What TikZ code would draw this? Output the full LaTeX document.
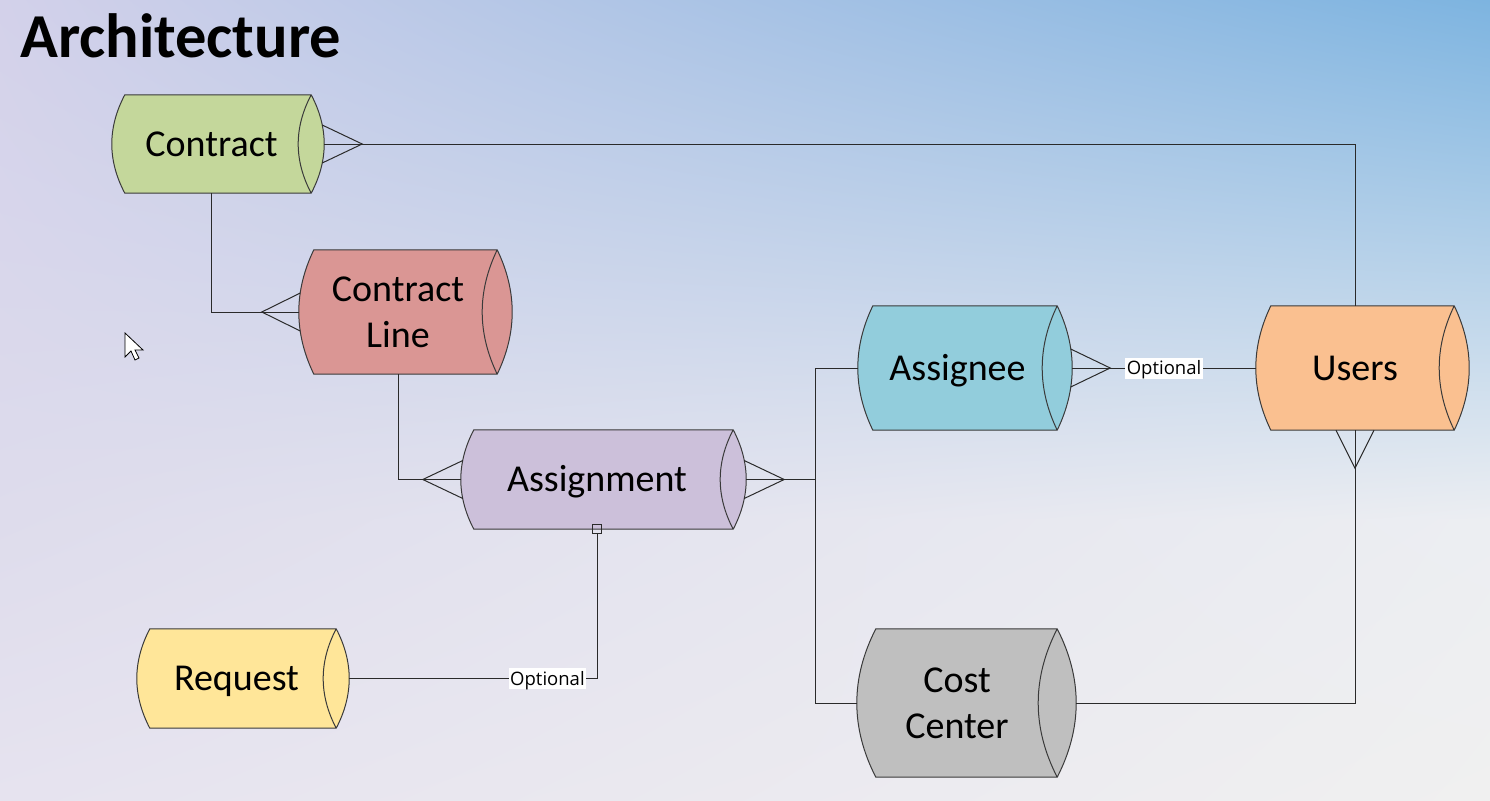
\documentclass[tikz,border=0pt]{standalone}
\usepackage{fontspec}
\setmainfont{Carlito}
\newfontfamily\optfont{Open Sans}
\usetikzlibrary{calc,shadings}
\pgfdeclarelayer{bgl}
\pgfdeclarelayer{shp}
\pgfsetlayers{bgl,shp,main}
\definecolor{cContract}{HTML}{C4D79B}
\definecolor{cLine}{HTML}{DA9694}
\definecolor{cAssign}{HTML}{CCC0DA}
\definecolor{cRequest}{HTML}{FFE699}
\definecolor{cAssignee}{HTML}{92CDDC}
\definecolor{cUsers}{HTML}{FAC090}
\definecolor{cCost}{HTML}{BFBFBF}
\definecolor{edgec}{HTML}{3A3A3A}
\definecolor{linec}{HTML}{2A2A2A}
\definecolor{bgUL}{HTML}{D3D1EA}
\definecolor{bgUR}{HTML}{7DB4E0}
\definecolor{bgML}{HTML}{DEDCEC}
\definecolor{bgMR}{HTML}{ECEEF2}
\definecolor{bgLL}{HTML}{E6E3EF}
\definecolor{bgLR}{HTML}{F0F0F0}
\newcommand{\cylshape}[3]{%
 \begin{pgfonlayer}{shp}
 \path let \p1=(#1.north west), \p2=(#1.south east), \n1={(\y1-\y2)/3} in
   [fill=#3, draw=edgec, line width=1pt, line join=miter]
   (\x1+#2pt,\y1) .. controls (\x1-#2pt/3,\y1-\n1) and (\x1-#2pt/3,\y2+\n1) .. (\x1+#2pt,\y2)
   -- (\x2,\y2) .. controls (\x2+4*#2pt/3,\y2+\n1) and (\x2+4*#2pt/3,\y1-\n1) .. (\x2,\y1) -- cycle
   (\x2,\y1) .. controls (\x2-4*#2pt/3,\y1-\n1) and (\x2-4*#2pt/3,\y2+\n1) .. (\x2,\y2);
 \end{pgfonlayer}}
\tikzset{
  entbase/.style={inner sep=0pt, align=center, text=black,
    font=\fontsize{38}{46}\selectfont},
  ent/.style={entbase, text height=30pt, text depth=5.5pt},
  enttwo/.style={entbase},
  conn/.style={draw=linec, line width=1pt},
  opt/.style={fill=white, inner xsep=1.5pt, inner ysep=1pt, text=black,
    text height=16pt, text depth=3pt,
    font=\optfont\fontsize{18.5}{20}\selectfont},
  sqbox/.style={draw=linec, line width=0.9pt, minimum size=9pt, inner sep=0pt}
}
\begin{document}
\begin{tikzpicture}[x=1pt,y=-1pt]
\useasboundingbox (0,0) rectangle (1490,800);
\begin{pgfonlayer}{bgl}
\shade[upper left=bgUL, upper right=bgUR, lower left=bgML, lower right=bgMR]
  (0,0) rectangle (1490,520);
\shade[upper left=bgML, upper right=bgMR, lower left=bgLL, lower right=bgLR]
  (0,519.5) rectangle (1490,800);
\end{pgfonlayer}

\node[anchor=base west, inner sep=0pt, font=\bfseries\fontsize{62.5}{70}\selectfont] (title) at (20,57) {Architecture};

\node[ent, minimum width=199pt, minimum height=98pt] (contract) at (211.5,144) {Contract};
\node[enttwo, minimum width=198pt, minimum height=124pt] (cline) at (398,312) {Contract\\Line};
\node[ent, minimum width=272pt, minimum height=99pt] (assign) at (597,479.5) {Assignment};
\node[ent, minimum width=199pt, minimum height=99pt] (request) at (236.5,678.5) {Request};
\node[ent, minimum width=199pt, minimum height=124pt] (assignee) at (957.5,368) {Assignee};
\node[ent, minimum width=198pt, minimum height=124pt] (users) at (1355,368) {Users};
\node[enttwo, minimum width=200pt, minimum height=148pt] (cost) at (957,703) {Cost\\Center};

\cylshape{contract}{13}{cContract}
\cylshape{cline}{15}{cLine}
\cylshape{assign}{13}{cAssign}
\cylshape{request}{13}{cRequest}
\cylshape{assignee}{15}{cAssignee}
\cylshape{users}{15}{cUsers}
\cylshape{cost}{19}{cCost}

% Contract -> Users
\draw[conn] ([xshift=13pt]contract.east) -| (users.north);
\draw[conn] ([xshift=11pt,yshift=19pt]contract.east) -- ([xshift=51pt]contract.east) -- ([xshift=11pt,yshift=-19pt]contract.east);
% Contract -> Contract Line
\draw[conn] (contract.south) |- (cline.west);
\draw[conn] ([xshift=1.5pt,yshift=19pt]cline.west) -- ([xshift=-37pt]cline.west) -- ([xshift=1.5pt,yshift=-19pt]cline.west);
% Contract Line -> Assignment
\draw[conn] (cline.south) |- (assign.west);
\draw[conn] ([xshift=2pt,yshift=19pt]assign.west) -- ([xshift=-38pt]assign.west) -- ([xshift=2pt,yshift=-19pt]assign.west);
% Assignment -> Assignee / Cost Center
\coordinate (j) at (815,479.5);
\draw[conn] ([xshift=13pt]assign.east) -- (j) |- (assignee.west);
\draw[conn] (j) |- (cost.west);
\draw[conn] ([xshift=11pt,yshift=19pt]assign.east) -- ([xshift=51pt]assign.east) -- ([xshift=11pt,yshift=-19pt]assign.east);
% Assignee -> Users
\draw[conn] ([xshift=15pt]assignee.east) -- node[opt] {Optional} (users.west);
\draw[conn] ([xshift=13.5pt,yshift=19pt]assignee.east) -- ([xshift=53pt]assignee.east) -- ([xshift=13.5pt,yshift=-19pt]assignee.east);
% Users -> Cost Center
\draw[conn] (users.south) |- ([xshift=19pt]cost.east);
\draw[conn] ([xshift=-19pt]users.south) -- ([yshift=-38pt]users.south) -- ([xshift=19pt]users.south);
% Request -> Assignment
\node[sqbox] (sq) at (assign.south) {};
\draw[conn] ([xshift=13pt]request.east) -| node[opt, pos=0.4] {Optional} (sq.south);

% mouse pointer
\draw[fill=white, draw=black, line width=0.8pt, line join=miter]
  (125,333) -- (125,357) -- (131,351) -- (135,360) -- (139,358) -- (135,350) -- (143,350) -- cycle;
\end{tikzpicture}
\end{document}
